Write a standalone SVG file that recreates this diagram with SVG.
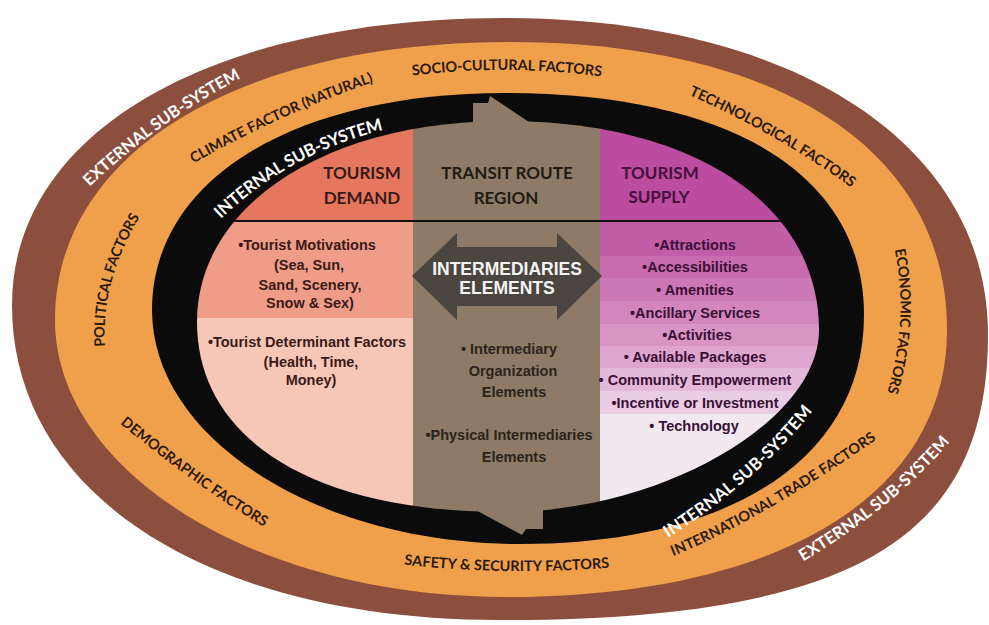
<svg xmlns="http://www.w3.org/2000/svg" width="989" height="625" viewBox="0 0 989 625">
<defs>
<style>
.ring{font-family:Lato,"Open Sans",sans-serif;font-weight:700;dominant-baseline:central;}
.ext{font-size:16.5px;fill:#ffffff;}
.fac{font-size:14.5px;fill:#2a1a10;}
.int{font-size:17px;fill:#ffffff;}
.hd{font-family:Lato,"Open Sans",sans-serif;font-weight:700;font-size:17px;text-anchor:middle;}
.it{font-family:"Liberation Sans",Arial,sans-serif;font-weight:700;font-size:14.5px;text-anchor:middle;}
.wt{font-family:"Liberation Sans",Arial,sans-serif;font-weight:700;font-size:17.5px;text-anchor:middle;fill:#f4f4f4;}
</style>
<clipPath id="innerClip">
<path d="M197,322 C197,205.4 326.4,121 505,121 C693.4,121 819,204.6 819,330 C819,421 662,512 505,512 C314,512 197,439.8 197,322 Z"/>
</clipPath>
<path id="pExtUL" d="M62.6,205.3 Q149.2,114.2 267,58.3"/>
<path id="pClim" d="M159,177.3 Q277.1,103.7 406.8,65.3"/>
<path id="pSocio" d="M381,74.1 Q507,53.2 633,75.5"/>
<path id="pTech" d="M661.9,77 Q778.9,123.7 880.3,201.6"/>
<path id="pPol" d="M102.2,369.5 Q85.4,284 147,194.5"/>
<path id="pEco" d="M894.2,222.3 Q922.7,319 884.4,419.7"/>
<path id="pDemo" d="M101.8,400.3 Q201,485.8 292.2,536.1"/>
<path id="pSafe" d="M369.1,554.1 Q505,573.8 644.9,558.3"/>
<path id="pTrade" d="M631,565 Q737,533 908,410"/>
<path id="pExtLR" d="M771,573 Q907,498 965,411"/>
<path id="pIntUL" d="M191.8,239.2 Q280.2,138.4 415.8,116"/>
<path id="pIntLR" d="M630,553 Q767,474 830,374"/>
</defs>

<g id="external-subsystem">
<path fill="#8c4f3e" d="M12,305 C12,132.8 209.2,18 505,18 C794.8,18 988,144.8 988,335 C988,540.2 851.4,620 500,620 C207.2,620 12,494 12,305 Z"/>
</g>
<g id="external-factors">
<path fill="#f0a04b" d="M55,320 C55,153.2 237,42 510,42 C780.9,42 947,151.4 947,330 C947,495.5 779,597 505,597 C257.5,597 55,472.4 55,320 Z"/>
</g>
<g id="internal-subsystem">
<path fill="#0b0b0b" d="M152,310 C152,179.8 293.2,93 505,93 C731.2,93 864,175.1 864,315 C864,457 733.3,544 520,544 C317.6,544 152,438.7 152,310 Z"/>
</g>

<g id="inner-regions" clip-path="url(#innerClip)">
<rect id="demand-header" x="150" y="100" width="263" height="121" fill="#e5775f"/>
<rect id="demand-motivations" x="150" y="221" width="263" height="97" fill="#ef9d88"/>
<rect id="demand-determinants" x="150" y="318" width="263" height="222" fill="#f6c7b7"/>
<rect id="transit" x="413" y="100" width="187" height="440" fill="#8d7b67"/>
<rect x="600" y="100" width="270" height="121" fill="#bb4c9f"/>
<rect x="600" y="221" width="270" height="35" fill="#c25ea8"/>
<rect x="600" y="256" width="270" height="22" fill="#c86baf"/>
<rect x="600" y="278" width="270" height="23" fill="#cd78b6"/>
<rect x="600" y="301" width="270" height="23" fill="#d386be"/>
<rect x="600" y="324" width="270" height="22" fill="#d995c6"/>
<rect x="600" y="346" width="270" height="22" fill="#dea6cf"/>
<rect x="600" y="368" width="270" height="23" fill="#e4b8d9"/>
<rect x="600" y="391" width="270" height="23" fill="#eacde5"/>
<rect x="600" y="414" width="270" height="126" fill="#f1e8f0"/>
<line x1="180" y1="221" x2="840" y2="221" stroke="#111111" stroke-width="1.8"/>
</g>

<g id="transit-arrow-ends" fill="#8d7b67">
<polygon points="473,135 473,103 488,103 490,96 529,122 529,135"/>
<polygon points="457,495 457,500 522,535 526,529 543,529 543,495"/>
</g>

<g id="intermediaries-arrow">
<polygon fill="#4a453f" points="412,276 457,233 457,247 557,247 557,233 602,276 557,320 557,306 457,306 457,320"/>
<text class="wt" x="507" y="274.5">INTERMEDIARIES</text>
<text class="wt" x="507" y="293.5">ELEMENTS</text>
</g>

<g id="tourism-demand">
<text class="hd" x="362" y="179" fill="#3a1a18">TOURISM</text>
<text class="hd" x="362" y="204" fill="#3a1a18">DEMAND</text>
<g class="it" fill="#3b1a17">
<text x="307" y="250">•Tourist Motivations</text>
<text x="309" y="270">(Sea, Sun,</text>
<text x="310" y="290">Sand, Scenery,</text>
<text x="310" y="308">Snow &amp; Sex)</text>
<text x="307" y="347">•Tourist Determinant Factors</text>
<text x="311" y="367">(Health, Time,</text>
<text x="311" y="385">Money)</text>
</g>
</g>

<g id="transit-route-region">
<text class="hd" x="507" y="179" fill="#231a12">TRANSIT ROUTE</text>
<text class="hd" x="506" y="204" fill="#231a12">REGION</text>
<g class="it" fill="#2b231c">
<text x="509" y="354">• Intermediary</text>
<text x="513" y="376">Organization</text>
<text x="514" y="397">Elements</text>
<text x="509" y="440">•Physical Intermediaries</text>
<text x="514" y="462">Elements</text>
</g>
</g>

<g id="tourism-supply">
<text class="hd" x="660" y="179" fill="#45113c">TOURISM</text>
<text class="hd" x="659" y="203" fill="#45113c">SUPPLY</text>
<g class="it" fill="#3a1035">
<text x="695" y="250">•Attractions</text>
<text x="695" y="272">•Accessibilities</text>
<text x="695" y="295">• Amenities</text>
<text x="695" y="318">•Ancillary Services</text>
<text x="697" y="340">•Activities</text>
<text x="695" y="362">• Available Packages</text>
<text x="695" y="385">• Community Empowerment</text>
<text x="695" y="408">•Incentive or Investment</text>
<text x="694" y="431">• Technology</text>
</g>
</g>

<g id="ring-labels">
<text class="ring ext"><textPath href="#pExtUL" startOffset="50%" text-anchor="middle">EXTERNAL SUB-SYSTEM</textPath></text>
<text class="ring ext"><textPath href="#pExtLR" startOffset="50%" text-anchor="middle">EXTERNAL SUB-SYSTEM</textPath></text>
<text class="ring fac"><textPath href="#pClim" startOffset="50%" text-anchor="middle">CLIMATE FACTOR (NATURAL)</textPath></text>
<text class="ring fac"><textPath href="#pSocio" startOffset="50%" text-anchor="middle">SOCIO-CULTURAL FACTORS</textPath></text>
<text class="ring fac"><textPath href="#pTech" startOffset="50%" text-anchor="middle">TECHNOLOGICAL FACTORS</textPath></text>
<text class="ring fac"><textPath href="#pPol" startOffset="50%" text-anchor="middle">POLITICAL FACTORS</textPath></text>
<text class="ring fac"><textPath href="#pEco" startOffset="50%" text-anchor="middle">ECONOMIC FACTORS</textPath></text>
<text class="ring fac"><textPath href="#pDemo" startOffset="50%" text-anchor="middle">DEMOGRAPHIC FACTORS</textPath></text>
<text class="ring fac"><textPath href="#pSafe" startOffset="50%" text-anchor="middle">SAFETY &amp; SECURITY FACTORS</textPath></text>
<text class="ring fac"><textPath href="#pTrade" startOffset="50%" text-anchor="middle">INTERNATIONAL TRADE FACTORS</textPath></text>
<text class="ring int"><textPath href="#pIntUL" startOffset="50%" text-anchor="middle">INTERNAL SUB-SYSTEM</textPath></text>
<text class="ring int"><textPath href="#pIntLR" startOffset="50%" text-anchor="middle">INTERNAL SUB-SYSTEM</textPath></text>
</g>
</svg>
